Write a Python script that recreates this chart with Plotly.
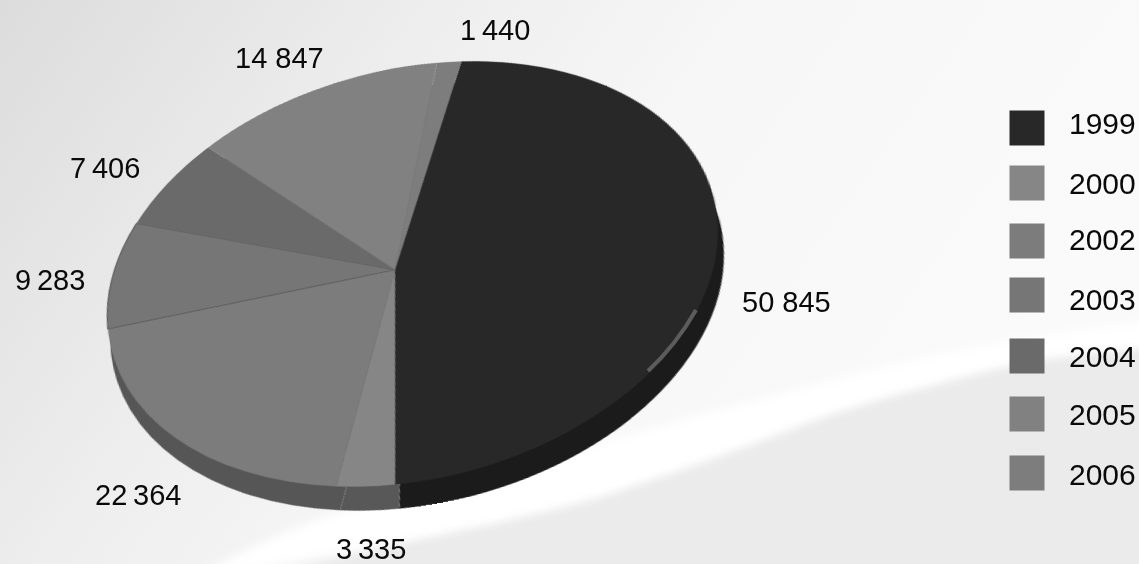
import json
import numpy as np
import plotly.graph_objects as go

W, H = 1139, 564

years = ["1999", "2000", "2002", "2003", "2004", "2005", "2006"]
values = [50845, 3335, 22364, 9283, 7406, 14847, 1440]
value_labels = ["50 845", "3\u2009335", "22\u2009364", "9\u2009283", "7\u2009406", "14 847", "1\u2009440"]
colors = ["#282828", "#868686", "#7c7c7c", "#767676", "#6a6a6a", "#818181", "#7d7d7d"]
rim_colors = ["#1b1b1b", "#585858", "#565656", "#606060", "#5a5a5a", "#666666", "#666666"]

label_px = [(786, 302), (371, 549), (138, 495), (50, 280), (105, 168), (279, 58), (495, 30)]
legend_cy = [128, 183, 241, 295, 356, 414, 473]
legend_text_dy = [-6, -1, -3, 3, -1, -1, 0]

ROT = 20.0
dx0, dx1, dy0, dy1 = 0.02, 0.98, 0.05, 0.95
cx = W * (dx0 + dx1) / 2
cy = H * (1 - (dy0 + dy1) / 2)
R = min(W * (dx1 - dx0), H * (dy1 - dy0)) / 2

frac = np.cumsum([0] + values) / sum(values)
ang = ROT + frac * 360


def rim(a):
    t = np.radians(a)
    return (cx + R * np.sin(t), cy - R * np.cos(t))


# anchor points of the photographed perspective (where slice edges meet the rim)
hub = (393, 270)
pairs = [
    ((cx, cy), hub), ((cx, cy), hub), ((cx, cy), hub),
    (rim(ang[0]), (471, 70)),
    (rim(ang[1]), (393, 490)),
    (rim(ang[2]), (338, 482)),
    (rim(ang[3]), (106, 316)),
    (rim(ang[4]), (127, 215)),
    (rim(ang[5]), (202, 146)),
    (rim(ang[6]), (449, 73)),
    (rim(ang[3] + 180), (722, 214)),
    (rim(ang[4] + 180), (702, 330)),
    (rim(ang[5] + 180), (598, 402)),
    (rim(ang[0] + 55), (666, 122)),
    (rim(ang[0] + 235), (140, 398)),
]
A = []
for (x, y), (u, v) in pairs:
    x0, y0, u0, v0 = x / 500, y / 500, u / 500, v / 500
    A.append([x0, y0, 1, 0, 0, 0, -u0 * x0, -u0 * y0, -u0])
    A.append([0, 0, 0, x0, y0, 1, -v0 * x0, -v0 * y0, -v0])
h = np.linalg.svd(np.array(A))[2][-1].reshape(3, 3)
S = np.diag([1 / 500, 1 / 500, 1.0])
Hm = np.linalg.inv(S) @ h @ S
Hm = Hm / Hm[2, 2]
a, b, c, d, e, f, g, k, _ = Hm.flatten()
matrix3d = f"matrix3d({a},{d},0,{g},{b},{e},0,{k},0,0,1,0,{c},{f},0,1)"


def paper(u, v):
    return u / W, 1 - v / H


p0, p1, p2 = paper(696, 310), paper(676, 345), paper(648, 371)

fig = go.Figure()
fig.add_trace(go.Pie(
    labels=years, values=values, sort=False, direction="clockwise", rotation=ROT,
    domain=dict(x=[dx0, dx1], y=[dy0 - 0.05, dy1 - 0.05]),
    marker=dict(colors=rim_colors, line=dict(width=0)),
    textinfo="none", hoverinfo="skip", showlegend=False,
))
fig.add_trace(go.Pie(
    labels=years, values=values, sort=False, direction="clockwise", rotation=ROT,
    domain=dict(x=[dx0, dx1], y=[dy0, dy1]),
    marker=dict(colors=colors, line=dict(width=[0, 0, 0, 1.2, 0, 0, 0], color="#5e5e5e")),
    textinfo="none", hoverinfo="label+value", showlegend=True,
))

annotations = [
    dict(text=t, x=x / W, y=1 - y / H, xref="paper", yref="paper", xanchor="center", yanchor="middle",
         showarrow=False, font=dict(family="Liberation Sans", size=29, color="#0a0a0a"))
    for t, (x, y) in zip(value_labels, label_px)
]

fig.update_layout(
    template="none", width=W, height=H, autosize=False,
    margin=dict(l=0, r=0, t=0, b=0),
    paper_bgcolor="rgba(0,0,0,0)", plot_bgcolor="rgba(0,0,0,0)",
    annotations=annotations,
    shapes=[dict(type="path", xref="paper", yref="paper",
                 path=f"M {p0[0]} {p0[1]} Q {p1[0]} {p1[1]} {p2[0]} {p2[1]}",
                 line=dict(color="#5c5c5c", width=4))],
    legend=dict(x=0.88, y=0.83, xanchor="left", yanchor="top", bgcolor="rgba(0,0,0,0)",
                font=dict(family="Liberation Sans", size=30, color="#0a0a0a")),
)

bg_svg = f"""<svg xmlns='http://www.w3.org/2000/svg' width='{W}' height='{H}'>
<defs>
<linearGradient id='g' x1='0' y1='0' x2='1' y2='0.35'>
<stop offset='0' stop-color='#dcdcdc'/><stop offset='0.35' stop-color='#eeeeee'/>
<stop offset='0.6' stop-color='#f7f7f7'/><stop offset='1' stop-color='#fafafa'/>
</linearGradient>
<filter id='b' x='-20%' y='-20%' width='140%' height='140%'><feGaussianBlur stdDeviation='5'/></filter>
</defs>
<rect width='{W}' height='{H}' fill='url(#g)'/>
<path d='M 215 590 C 350 550 480 525 600 490 C 680 465 740 440 806 417 C 870 395 930 380 978 368 C 1040 355 1100 350 1160 345 L 1160 590 Z' fill='#ebebeb' filter='url(#b)'/>
<path d='M 200 575 C 330 500 470 475 600 443 C 680 420 740 405 806 387 C 870 370 930 355 978 347 C 1040 335 1100 328 1160 320 L 1160 345 C 1100 350 1040 355 978 373 C 930 385 870 400 806 423 C 740 450 680 470 600 497 C 480 530 350 550 240 572 Z' fill='#ffffff' filter='url(#b)'/>
</svg>"""

post = """
var css = %s, ys = %s, tdy = %s, bg = %s;
document.documentElement.style.margin = '0';
document.body.style.margin = '0';
document.body.style.overflow = 'hidden';
document.body.style.background = 'url("data:image/svg+xml,' + encodeURIComponent(bg) + '") no-repeat 0 0';
var gd = document.getElementsByClassName('plotly-graph-div')[0];
var svgs = gd.querySelectorAll('svg.main-svg');
svgs[0].style.transformOrigin = '0 0';
svgs[0].style.transform = css;
var legend = gd.querySelector('.legend');
legend.setAttribute('transform', 'translate(0,0)');
var box = legend.querySelector('.scrollbox');
box.removeAttribute('clip-path');
box.setAttribute('transform', 'translate(0,0)');
legend.querySelectorAll('.traces').forEach(function (t, i) {
  t.setAttribute('transform', 'translate(1007,' + ys[i] + ')');
  var txt = t.querySelector('text.legendtext');
  txt.setAttribute('x', 62);
  txt.setAttribute('transform', 'translate(0,' + tdy[i] + ')');
  var p = t.querySelector('.legendpoints path');
  p.setAttribute('d', 'M17.5,17.5H-17.5V-17.5H17.5Z');
  p.style.strokeWidth = '0';
});
""" % (json.dumps(matrix3d), json.dumps(legend_cy), json.dumps(legend_text_dy), json.dumps(bg_svg))

fig.write_html("out.html", post_script=post, config=dict(displayModeBar=False))
